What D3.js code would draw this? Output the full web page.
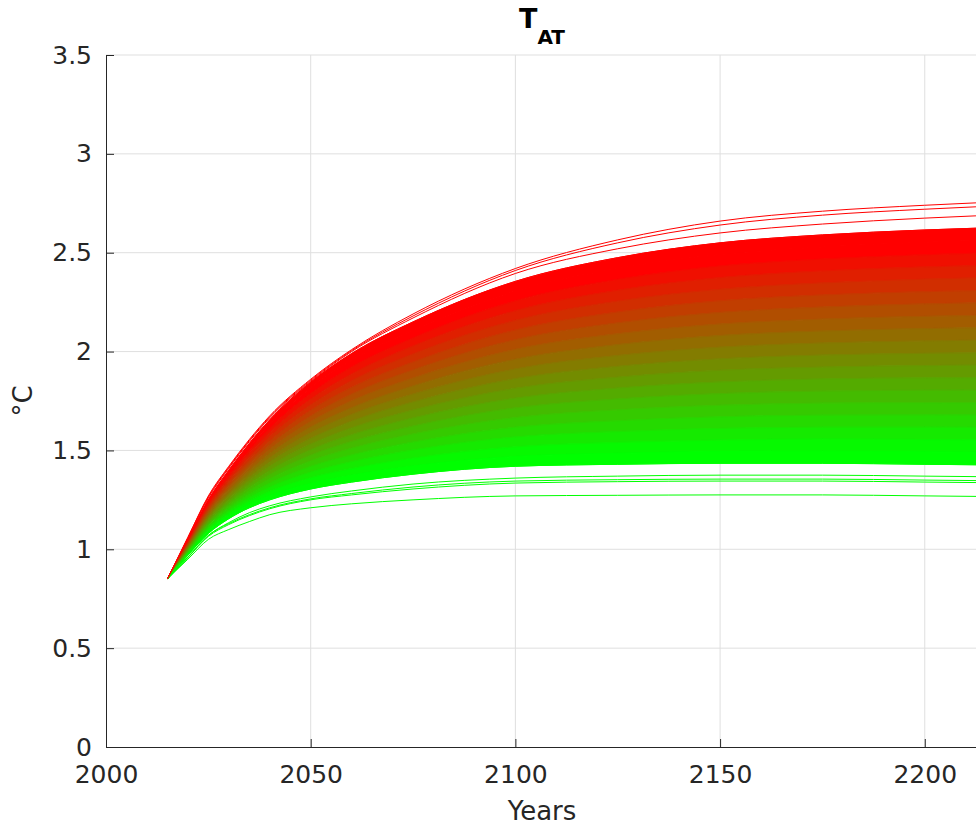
<!DOCTYPE html>
<html>
<head>
<meta charset="utf-8">
<script src="https://cdn.jsdelivr.net/npm/d3@7"></script>
<style>
    body { margin: 0; background: #fff; }
    svg { display: block; font-family: "DejaVu Sans", sans-serif; }
</style>
</head>
<body>
<div id="chart"></div>
<script>
// Sample years shared by every run
const years = [2015, 2020, 2025, 2030, 2035, 2040, 2050, 2060, 2075, 2100, 2125, 2150, 2175, 2200, 2250];

// Dense band of runs, upper edge first
const bandRuns = [
    [0.85, 1.050, 1.250, 1.400, 1.535, 1.655, 1.845, 1.990, 2.150, 2.355, 2.475, 2.550, 2.590, 2.615, 2.640],
    [0.85, 1.046, 1.241, 1.387, 1.518, 1.634, 1.817, 1.956, 2.109, 2.306, 2.420, 2.491, 2.529, 2.553, 2.576],
    [0.85, 1.042, 1.232, 1.374, 1.501, 1.612, 1.788, 1.922, 2.069, 2.257, 2.365, 2.433, 2.468, 2.490, 2.512],
    [0.85, 1.037, 1.223, 1.361, 1.484, 1.591, 1.760, 1.887, 2.028, 2.207, 2.310, 2.374, 2.408, 2.428, 2.447],
    [0.85, 1.033, 1.214, 1.348, 1.467, 1.570, 1.731, 1.853, 1.988, 2.158, 2.255, 2.315, 2.347, 2.366, 2.383],
    [0.85, 1.029, 1.205, 1.336, 1.449, 1.548, 1.703, 1.819, 1.947, 2.109, 2.200, 2.257, 2.286, 2.303, 2.319],
    [0.85, 1.025, 1.196, 1.323, 1.432, 1.527, 1.674, 1.785, 1.907, 2.060, 2.145, 2.198, 2.225, 2.241, 2.255],
    [0.85, 1.021, 1.187, 1.310, 1.415, 1.506, 1.646, 1.751, 1.866, 2.011, 2.090, 2.139, 2.164, 2.178, 2.191],
    [0.85, 1.016, 1.178, 1.297, 1.398, 1.484, 1.618, 1.716, 1.826, 1.961, 2.035, 2.081, 2.104, 2.116, 2.126],
    [0.85, 1.012, 1.169, 1.284, 1.381, 1.463, 1.589, 1.682, 1.785, 1.912, 1.980, 2.022, 2.043, 2.054, 2.062],
    [0.85, 1.008, 1.161, 1.271, 1.364, 1.442, 1.561, 1.648, 1.745, 1.863, 1.925, 1.963, 1.982, 1.991, 1.998],
    [0.85, 1.004, 1.152, 1.258, 1.347, 1.421, 1.532, 1.614, 1.704, 1.814, 1.870, 1.905, 1.921, 1.929, 1.934],
    [0.85, 0.999, 1.143, 1.245, 1.330, 1.399, 1.504, 1.579, 1.664, 1.764, 1.815, 1.846, 1.861, 1.867, 1.869],
    [0.85, 0.995, 1.134, 1.232, 1.313, 1.378, 1.476, 1.545, 1.623, 1.715, 1.760, 1.787, 1.800, 1.804, 1.805],
    [0.85, 0.991, 1.125, 1.219, 1.296, 1.357, 1.447, 1.511, 1.583, 1.666, 1.705, 1.728, 1.739, 1.742, 1.741],
    [0.85, 0.987, 1.116, 1.207, 1.278, 1.335, 1.419, 1.477, 1.542, 1.617, 1.650, 1.670, 1.678, 1.679, 1.677],
    [0.85, 0.983, 1.107, 1.194, 1.261, 1.314, 1.390, 1.443, 1.502, 1.568, 1.595, 1.611, 1.617, 1.617, 1.613],
    [0.85, 0.978, 1.098, 1.181, 1.244, 1.293, 1.362, 1.408, 1.461, 1.518, 1.540, 1.552, 1.557, 1.555, 1.548],
    [0.85, 0.974, 1.089, 1.168, 1.227, 1.271, 1.333, 1.374, 1.421, 1.469, 1.485, 1.494, 1.496, 1.492, 1.484],
    [0.85, 0.970, 1.080, 1.155, 1.210, 1.250, 1.305, 1.340, 1.380, 1.420, 1.430, 1.435, 1.435, 1.430, 1.420]
];

// Hot runs standing above the band
const upperRuns = [
    [0.85, 1.055, 1.260, 1.410, 1.545, 1.665, 1.850, 2.000, 2.170, 2.395, 2.520, 2.600, 2.645, 2.675, 2.710],
    [0.85, 1.060, 1.265, 1.415, 1.550, 1.670, 1.855, 2.005, 2.180, 2.410, 2.550, 2.640, 2.690, 2.720, 2.760],
    [0.85, 1.060, 1.270, 1.420, 1.555, 1.675, 1.860, 2.010, 2.190, 2.420, 2.565, 2.660, 2.710, 2.740, 2.780]
];

// Cool runs standing below the band
const lowerRuns = [
    [0.85, 0.960, 1.070, 1.135, 1.185, 1.220, 1.265, 1.295, 1.330, 1.360, 1.370, 1.375, 1.375, 1.370, 1.360],
    [0.85, 0.960, 1.070, 1.130, 1.175, 1.210, 1.255, 1.282, 1.315, 1.345, 1.352, 1.355, 1.355, 1.350, 1.340],
    [0.85, 0.958, 1.065, 1.125, 1.170, 1.205, 1.250, 1.275, 1.305, 1.335, 1.342, 1.345, 1.345, 1.340, 1.330],
    [0.85, 0.950, 1.050, 1.100, 1.140, 1.175, 1.210, 1.230, 1.250, 1.270, 1.273, 1.275, 1.275, 1.270, 1.260]
];

const xTicks = [2000, 2050, 2100, 2150, 2200];
const yTicks = [0, 0.5, 1, 1.5, 2, 2.5, 3, 3.5];

const svgWidth = 976;
const svgHeight = 827;
const margin = { top: 55, left: 106 };
const width = 872;
const height = 692;
const axisColor = "#262626";

const svg = d3.select("#chart").append("svg")
    .attr("width", svgWidth)
    .attr("height", svgHeight);

const x = d3.scaleLinear().domain([2000, 2213]).range([0, width]);
const y = d3.scaleLinear().domain([0, 3.5]).range([height, 0]);

// Colour runs by their level in 2200: green (cool) to red (hot)
const color = d3.scaleLinear().domain([1.50, 2.52]).range(["#00ff00", "#ff0000"]).clamp(true);
const endIdx = years.indexOf(2200);

const g = svg.append("g").attr("transform", `translate(${margin.left},${margin.top})`);

g.append("clipPath").attr("id", "plot-clip")
    .append("rect").attr("width", width).attr("height", height);

// Grid
g.append("g").selectAll("line")
    .data(xTicks.slice(1))
    .enter().append("line")
    .attr("x1", d => x(d)).attr("x2", d => x(d))
    .attr("y1", 0).attr("y2", height)
    .attr("stroke", "#dfdfdf").attr("stroke-width", 1);

g.append("g").selectAll("line")
    .data(yTicks.slice(1))
    .enter().append("line")
    .attr("x1", 0).attr("x2", width)
    .attr("y1", d => y(d)).attr("y2", d => y(d))
    .attr("stroke", "#dfdfdf").attr("stroke-width", 1);

const runs = g.append("g").attr("clip-path", "url(#plot-clip)");

const line = d3.line()
    .x((d, i) => x(years[i]))
    .y(d => y(d))
    .curve(d3.curveMonotoneX);

const area = d3.area()
    .x(d => x(d[0]))
    .y0(d => y(d[1]))
    .y1(d => y(d[2]))
    .curve(d3.curveMonotoneX);

// Fill between neighbouring band runs so the band reads as solid
const bandPairs = d3.pairs(bandRuns);
runs.selectAll(".band")
    .data(bandPairs)
    .enter().append("path")
    .attr("class", "band")
    .attr("d", p => area(years.map((yr, i) => [yr, p[0][i], p[1][i]])))
    .attr("fill", p => color((p[0][endIdx] + p[1][endIdx]) / 2))
    .attr("stroke", p => color((p[0][endIdx] + p[1][endIdx]) / 2))
    .attr("stroke-width", 1);

runs.selectAll(".run")
    .data(bandRuns.concat(lowerRuns, upperRuns))
    .enter().append("path")
    .attr("class", "run")
    .attr("d", line)
    .attr("fill", "none")
    .attr("stroke", d => color(d[endIdx]))
    .attr("stroke-width", 1);

// Axes, ticks pointing inward
const xAxis = g.append("g")
    .attr("transform", `translate(0,${height})`)
    .call(d3.axisBottom(x).tickValues(xTicks).tickSizeInner(-8).tickSizeOuter(0).tickPadding(18).tickFormat(d3.format("d")));

const yAxis = g.append("g")
    .call(d3.axisLeft(y).tickValues(yTicks).tickSizeInner(-8).tickSizeOuter(0).tickPadding(14).tickFormat(d => d));

[xAxis, yAxis].forEach(a => {
    a.select(".domain").attr("stroke", axisColor).attr("stroke-width", 1);
    a.selectAll(".tick line").attr("stroke", axisColor);
    a.selectAll(".tick text")
        .attr("fill", axisColor)
        .style("font-size", "25px")
        .style("font-family", "DejaVu Sans, sans-serif");
});

// Axis labels
svg.append("text")
    .attr("x", margin.left + width / 2)
    .attr("y", 820)
    .attr("text-anchor", "middle")
    .attr("fill", axisColor)
    .style("font-size", "26px")
    .text("Years");

svg.append("text")
    .attr("transform", "rotate(-90)")
    .attr("x", -(margin.top + height / 2))
    .attr("y", 32)
    .attr("text-anchor", "middle")
    .attr("fill", axisColor)
    .style("font-size", "26px")
    .text("°C");

// Title with subscript
const title = svg.append("text")
    .attr("x", margin.left + width / 2)
    .attr("y", 28)
    .attr("text-anchor", "middle")
    .attr("fill", "#000")
    .style("font-weight", "bold")
    .style("font-size", "27px");
title.append("tspan").text("T");
title.append("tspan").attr("dy", 16).style("font-size", "20px").text("AT");
</script>
</body>
</html>
